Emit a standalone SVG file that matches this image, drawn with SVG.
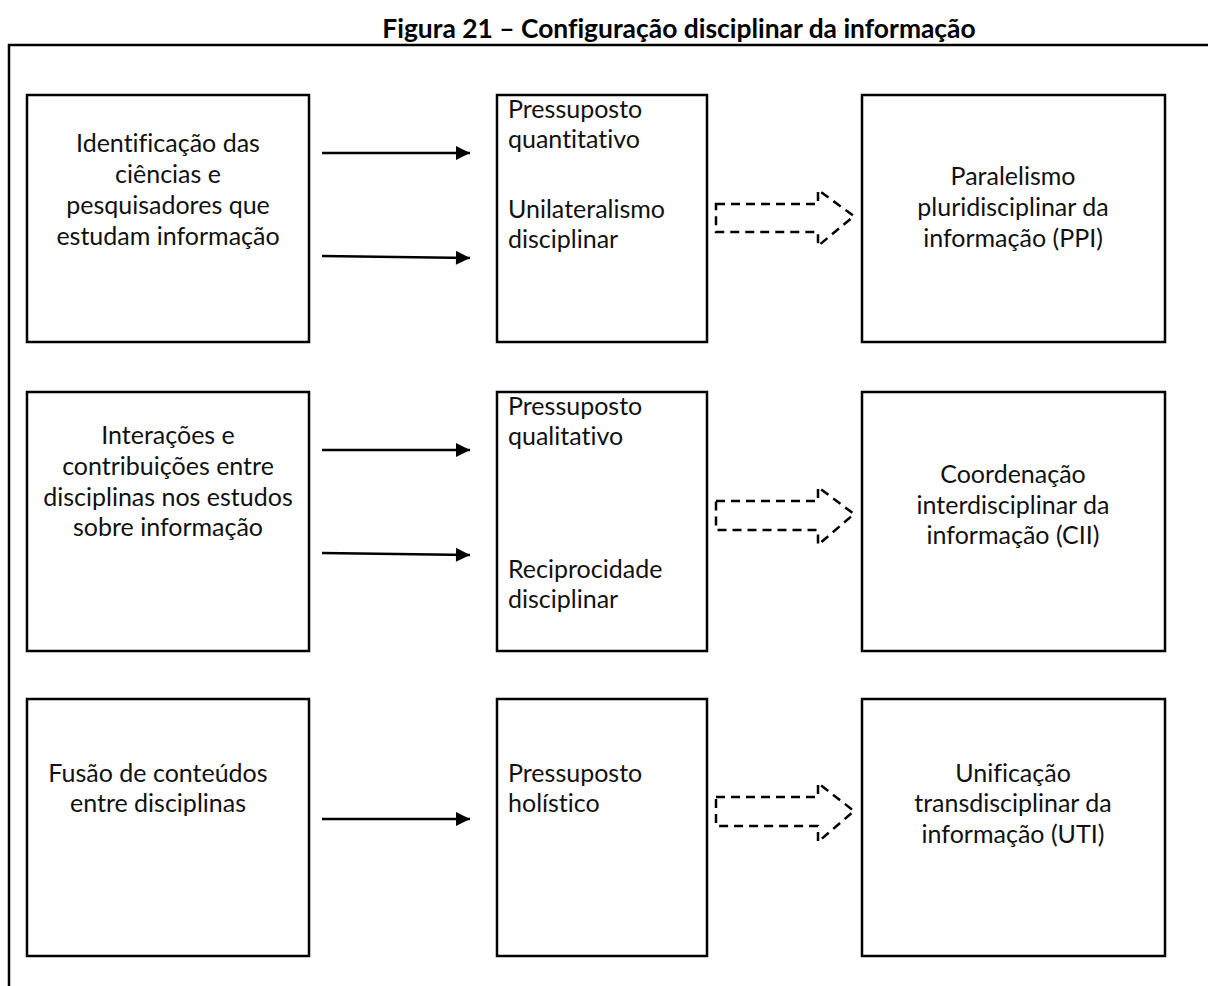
<svg xmlns="http://www.w3.org/2000/svg" width="1208" height="986" viewBox="0 0 1208 986">
<defs>
<style>
.box{fill:#fff;stroke:#000;stroke-width:2.5}
.frame{fill:none;stroke:#000;stroke-width:2.5}
.t{font-family:Lato,"Liberation Sans",sans-serif;font-size:25px;fill:#111;font-variant-ligatures:none}
.c{text-anchor:middle}
.title{font-family:Lato,"Liberation Sans",sans-serif;font-size:26.4px;font-weight:bold;text-anchor:middle;fill:#000;font-variant-ligatures:none}
.arr{stroke:#000;stroke-width:2.5;fill:none}
.blk{stroke:#000;stroke-width:2.5;fill:none;stroke-dasharray:9,6}
</style>
<marker id="ah" viewBox="0 0 10 10" refX="10" refY="5" markerWidth="16" markerHeight="14" markerUnits="userSpaceOnUse" orient="auto">
<path d="M0,0 L10,5 L0,10 z" fill="#000"/>
</marker>
</defs>
<rect width="1208" height="986" fill="#fff"/>
<text class="title" x="679" y="38">Figura 21 – Configuração disciplinar da informação</text>
<path class="frame" d="M9,986 L9,45 L1208,45"/>

<g id="n1"><rect class="box" x="27" y="95" width="282" height="247"/>
<text class="t c" x="168" y="152">Identificação das</text>
<text class="t c" x="168" y="183">ciências e</text>
<text class="t c" x="168" y="214">pesquisadores que</text>
<text class="t c" x="168" y="245">estudam informação</text></g>

<g id="n2"><rect class="box" x="497" y="95" width="210" height="247"/>
<text class="t" x="508" y="118">Pressuposto</text>
<text class="t" x="508" y="148">quantitativo</text>
<text class="t" x="508" y="218">Unilateralismo</text>
<text class="t" x="508" y="248">disciplinar</text></g>

<g id="n3"><rect class="box" x="862" y="95" width="303" height="247"/>
<text class="t c" x="1013" y="185">Paralelismo</text>
<text class="t c" x="1013" y="216">pluridisciplinar da</text>
<text class="t c" x="1013" y="247">informação (PPI)</text></g>

<g id="n4"><rect class="box" x="27" y="392" width="282" height="259"/>
<text class="t c" x="168" y="444">Interações e</text>
<text class="t c" x="168" y="475">contribuições entre</text>
<text class="t c" x="168" y="506">disciplinas nos estudos</text>
<text class="t c" x="168" y="536">sobre informação</text></g>

<g id="n5"><rect class="box" x="497" y="392" width="210" height="259"/>
<text class="t" x="508" y="415">Pressuposto</text>
<text class="t" x="508" y="445">qualitativo</text>
<text class="t" x="508" y="578">Reciprocidade</text>
<text class="t" x="508" y="608">disciplinar</text></g>

<g id="n6"><rect class="box" x="862" y="392" width="303" height="259"/>
<text class="t c" x="1013" y="483">Coordenação</text>
<text class="t c" x="1013" y="514">interdisciplinar da</text>
<text class="t c" x="1013" y="544">informação (CII)</text></g>

<g id="n7"><rect class="box" x="27" y="699" width="282" height="257"/>
<text class="t c" x="158" y="782">Fusão de conteúdos</text>
<text class="t c" x="158" y="812">entre disciplinas</text></g>

<g id="n8"><rect class="box" x="497" y="699" width="210" height="257"/>
<text class="t" x="508" y="782">Pressuposto</text>
<text class="t" x="508" y="812">holístico</text></g>

<g id="n9"><rect class="box" x="862" y="699" width="303" height="257"/>
<text class="t c" x="1013" y="782">Unificação</text>
<text class="t c" x="1013" y="812">transdisciplinar da</text>
<text class="t c" x="1013" y="843">informação (UTI)</text></g>

<g id="connectors">
<line class="arr" x1="322" y1="153" x2="470" y2="153" marker-end="url(#ah)"/>
<line class="arr" x1="322" y1="256" x2="470" y2="258" marker-end="url(#ah)"/>
<line class="arr" x1="322" y1="450" x2="470" y2="450" marker-end="url(#ah)"/>
<line class="arr" x1="322" y1="553" x2="470" y2="555" marker-end="url(#ah)"/>
<line class="arr" x1="322" y1="819" x2="470" y2="819" marker-end="url(#ah)"/>
<path class="blk" d="M716,204 L818,204 L818,190 L854,216 L818,246 L818,232 L716,232 Z"/>
<path class="blk" d="M716,501 L818,501 L818,487 L854,514 L818,545 L818,530 L716,530 Z"/>
<path class="blk" d="M716,797 L818,797 L818,783 L854,811 L818,842 L818,826 L716,826 Z"/>
</g>
</svg>
